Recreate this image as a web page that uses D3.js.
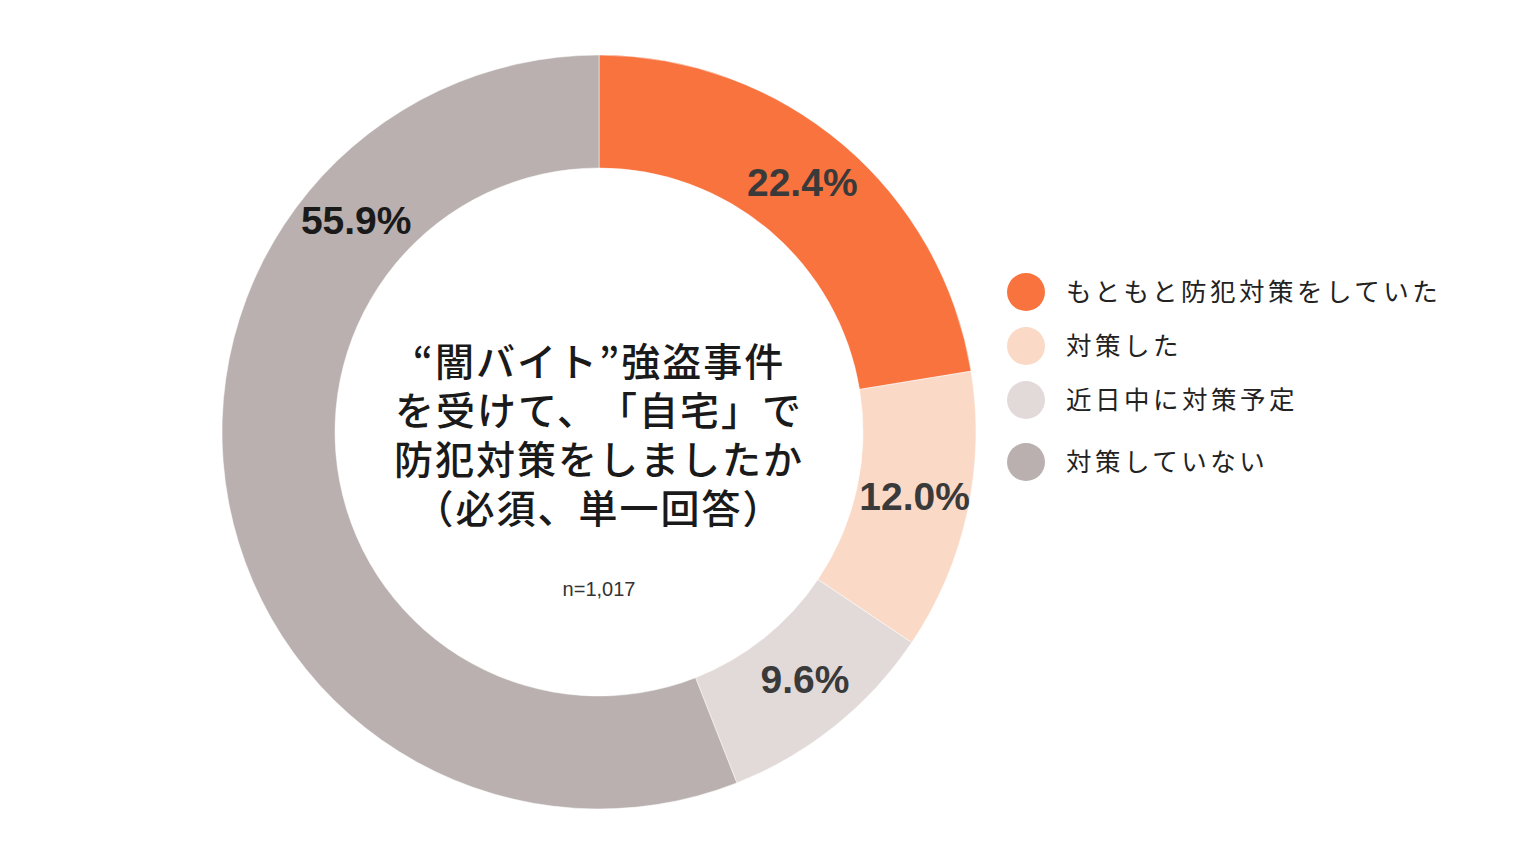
<!DOCTYPE html>
<html><head><meta charset="utf-8">
<script src="https://cdn.jsdelivr.net/npm/d3@7"></script>
<style>html,body{margin:0;padding:0;background:#fff;}svg{display:block;}text{text-spacing-trim:space-all;}</style>
</head><body>
<svg id="chart" width="1540" height="866"></svg>
<script>
const categories = ["もともと防犯対策をしていた", "対策した", "近日中に対策予定", "対策していない"];
const values = [22.4, 12.0, 9.6, 55.9];
const colors = ["#F9733F", "#FAD9C6", "#E2DAD9", "#B9B0AF"];
const labelColors = ["#3a3a3a", "#3a3a3a", "#3a3a3a", "#1a1a1a"];
const labelPos = [0.485, 0.48, 0.47, 0.757];
const titleLines = ["“闇バイト”強盗事件", "を受けて、「自宅」で", "防犯対策をしましたか", "（必須、単一回答）"];
const note = "n=1,017";

const svg = d3.select("#chart");
const cx = 599, cy = 432, rOuter = 377, rInner = 264;
const g = svg.append("g").attr("transform", `translate(${cx},${cy})`);

const pie = d3.pie().sort(null).value(d => d)(values);
const arc = d3.arc().innerRadius(rInner).outerRadius(rOuter);
g.selectAll("path.slice").data(pie).join("path")
  .attr("class", "slice")
  .attr("d", arc)
  .attr("fill", (d, i) => colors[i])
  .attr("stroke", "#fff").attr("stroke-width", 0.5);

const rLab = 322;
g.selectAll("text.pct").data(pie).join("text")
  .attr("class", "pct")
  .attr("x", (d, i) => { const a = d.startAngle + (d.endAngle - d.startAngle) * labelPos[i]; return Math.sin(a) * rLab; })
  .attr("y", (d, i) => { const a = d.startAngle + (d.endAngle - d.startAngle) * labelPos[i]; return -Math.cos(a) * rLab; })
  .attr("dy", "0.35em")
  .attr("text-anchor", "middle")
  .attr("font-family", "Liberation Sans, Arial, sans-serif")
  .attr("font-weight", "bold")
  .attr("font-size", 39)
  .attr("fill", (d, i) => labelColors[i])
  .text((d, i) => values[i].toFixed(1) + "%");

// center title
const t = g.append("text")
  .attr("text-anchor", "middle")
  .attr("font-family", "'Noto Sans CJK JP', sans-serif")
  .attr("font-weight", 500)
  .attr("font-size", 39)
  .attr("letter-spacing", 2)
  .attr("fill", "#1a1a1a");
titleLines.forEach((l, i) => {
  t.append("tspan").attr("x", 0).attr("y", -70 + i * 49 + 14).text(l);
});
g.append("text").attr("x", 0).attr("y", 157 + 7)
  .attr("text-anchor", "middle")
  .attr("font-family", "Liberation Sans, Arial, sans-serif")
  .attr("font-size", 20).attr("fill", "#333")
  .text(note);

// legend
const legendY = [292, 346, 400, 462];
const lg = svg.append("g");
const items = lg.selectAll("g").data(categories).join("g")
  .attr("transform", (d, i) => `translate(1026,${legendY[i]})`);
items.append("circle").attr("r", 19).attr("fill", (d, i) => colors[i]);
items.append("text").attr("x", 40).attr("dy", "0.35em")
  .attr("font-family", "'Noto Sans CJK JP', sans-serif")
  .attr("font-size", 25.5)
  .attr("letter-spacing", 3.5)
  .attr("fill", "#222")
  .text(d => d);
</script>
</body></html>
